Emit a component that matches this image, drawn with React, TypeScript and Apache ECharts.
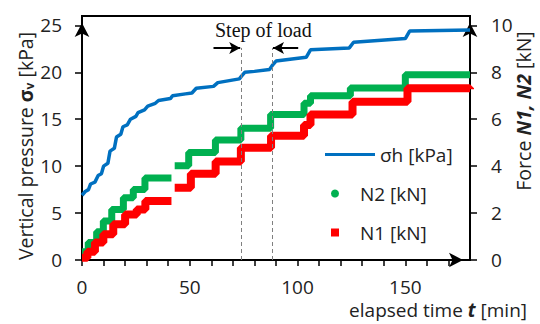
import React, { useEffect, useRef } from "react";
import * as echarts from "echarts";

// elapsed time t [min] and horizontal pressure σh [kPa]
const blueT = [0, 1.5, 3, 4, 6, 7.5, 9, 10, 12, 13, 15, 16, 18, 19, 21, 22.5, 25, 26, 29, 30.5, 34, 35.5, 41, 42, 48, 51, 53, 61, 63, 73, 74, 75.5, 80, 87, 88.5, 90, 104, 106, 124, 126, 150, 152, 180];
const sigmaH = [6.9, 7.3, 7.5, 8.1, 8.3, 9.0, 9.2, 10.0, 10.3, 11.6, 11.9, 13.1, 13.4, 14.2, 14.4, 15.0, 15.3, 15.7, 16.0, 16.4, 16.7, 17.0, 17.2, 17.5, 17.7, 17.8, 18.3, 18.5, 18.9, 19.3, 19.6, 20.0, 20.1, 20.3, 20.8, 21.2, 21.6, 22.4, 22.6, 23.2, 23.6, 24.4, 24.5];

// force N2 [kN] (step levels, value holds from t until next t)
const n2T = [0, 2.9, 6.8, 9.9, 13.8, 19.2, 23.8, 29.2, 40.8, 41.5, 43, 49.5, 61.9, 73.7, 87.5, 103, 106, 124.5, 150, 180];
const n2 = [0.35, 0.75, 1.2, 1.66, 2.15, 2.65, 3.0, 3.5, 3.5, null, 4.02, 4.58, 5.12, 5.62, 6.2, 6.68, 7.0, 7.33, 7.9, 7.88];

// force N1 [kN]
const n1T = [0, 2.5, 6, 9.9, 14.5, 20, 25.4, 29.4, 40.8, 41.5, 43, 50.5, 62, 73.7, 87.7, 103, 106, 125.5, 151, 180];
const n1 = [0.1, 0.35, 0.75, 1.1, 1.52, 1.94, 2.15, 2.52, 2.52, null, 3.08, 3.68, 4.2, 4.78, 5.3, 5.75, 6.2, 6.75, 7.32, 7.28];

const xTicks = [0, 10, 20, 30, 40, 50, 60, 70, 80, 90, 100, 110, 120, 130, 140, 150, 160, 170];
const xLabels = [0, 50, 100, 150];
const leftTicks = [0, 5, 10, 15, 20, 25];
const rightTicks = [0, 2, 4, 6, 8, 10];

const loadSteps = [73.7, 88.3];
const arrowLevel = 22.6;
const arrowFrom = [61, 100.3];

const names = { sh: "σh [kPa]", n2: "N2 [kN]", n1: "N1 [kN]" };

const FONT = "Open Sans";

export default function App() {
  const ref = useRef<HTMLDivElement>(null);
  useEffect(() => {
    if (!ref.current) return;
    const chart = echarts.init(ref.current, undefined, { renderer: "svg" });
    const pair = (ts: number[], vs: (number | null)[]) =>
      ts.map((t, i) => [t, vs[i] === null ? "-" : vs[i]]);
    const axisLine = (sym: boolean) => ({
      show: true,
      lineStyle: { color: "#000", width: 2 },
      symbol: sym ? ["none", "arrow"] : "none",
      symbolSize: [11, 14],
      symbolOffset: [0, -7],
    });
    const dash = (t: number) => [
      { coord: [t, 0], lineStyle: { type: [4, 3], color: "#808080", width: 1 } },
      { coord: [t, arrowLevel], lineStyle: { type: [4, 3], color: "#808080", width: 1 } },
    ];
    const arrow = (from: number, to: number) => [
      { coord: [from, arrowLevel], symbol: "none", lineStyle: { color: "#000", width: 2, type: "solid" } },
      { coord: [to, arrowLevel], symbol: "arrow", symbolSize: [9, 11], lineStyle: { color: "#000", width: 2, type: "solid" } },
    ];
    const legendText = { fontFamily: FONT, fontSize: 19, color: "#222" };
    chart.setOption({
      animation: false,
      backgroundColor: "#fff",
      textStyle: { fontFamily: FONT },
      grid: { left: 82, top: 16, width: 388, height: 244, show: true, borderColor: "#000", borderWidth: 2 },
      xAxis: {
        type: "value",
        min: 0,
        max: 180,
        axisLine: axisLine(true),
        axisTick: { show: true, length: 6, lineStyle: { color: "#000", width: 1.5 }, customValues: xTicks },
        axisLabel: { fontSize: 19, color: "#222", margin: 17, customValues: xLabels, fontFamily: FONT },
        splitLine: { show: false },
      },
      yAxis: [
        {
          type: "value",
          min: 0,
          max: 26,
          position: "left",
          axisLine: axisLine(true),
          axisTick: { show: true, length: 7, lineStyle: { color: "#000", width: 1.5 }, customValues: leftTicks },
          axisLabel: { fontSize: 19, color: "#222", margin: 20, customValues: leftTicks, fontFamily: FONT },
          splitLine: { show: false },
        },
        {
          type: "value",
          min: 0,
          max: 10.4,
          position: "right",
          axisLine: axisLine(true),
          axisTick: { show: true, length: 7, lineStyle: { color: "#000", width: 1.5 }, customValues: rightTicks },
          axisLabel: { fontSize: 19, color: "#222", margin: 21, customValues: rightTicks, fontFamily: FONT },
          splitLine: { show: false },
        },
      ],
      legend: [
        {
          data: [{ name: names.sh, icon: "rect" }],
          orient: "vertical",
          left: 320,
          top: 140,
          itemWidth: 50,
          itemHeight: 3,
          selectedMode: false,
          textStyle: legendText,
        },
        {
          data: [{ name: names.n2, icon: "circle" }],
          orient: "vertical",
          left: 326,
          top: 179,
          itemWidth: 40,
          itemHeight: 8,
          selectedMode: false,
          textStyle: legendText,
        },
        {
          data: [{ name: names.n1, icon: "path://M0,0h10v10h-10z" }],
          orient: "vertical",
          left: 326,
          top: 218,
          itemWidth: 40,
          itemHeight: 8,
          selectedMode: false,
          textStyle: legendText,
        },
      ],
      series: [
        {
          name: names.sh,
          type: "line",
          yAxisIndex: 0,
          data: pair(blueT, sigmaH),
          showSymbol: false,
          symbol: "none",
          lineStyle: { color: "#0070C0", width: 3.5 },
          itemStyle: { color: "#0070C0" },
          z: 3,
          markLine: {
            silent: true,
            animation: false,
            symbol: ["none", "none"],
            label: { show: false },
            emphasis: { disabled: true },
            data: [
              dash(loadSteps[0]),
              dash(loadSteps[1]),
              arrow(arrowFrom[0], loadSteps[0] - 0.3),
              arrow(arrowFrom[1], loadSteps[1] + 0.3),
            ],
          },
        },
        {
          name: names.n2,
          type: "line",
          yAxisIndex: 1,
          step: "end",
          data: pair(n2T, n2),
          showSymbol: false,
          symbol: "none",
          connectNulls: false,
          lineStyle: { color: "#00B050", width: 7 },
          itemStyle: { color: "#00B050" },
          z: 2,
        },
        {
          name: names.n1,
          type: "line",
          yAxisIndex: 1,
          step: "end",
          data: pair(n1T, n1),
          showSymbol: false,
          symbol: "none",
          connectNulls: false,
          lineStyle: { color: "#FF0000", width: 8 },
          itemStyle: { color: "#FF0000" },
          z: 2,
        },
      ],
      graphic: [
        {
          type: "text",
          x: 215,
          y: 30,
          style: {
            text: "Step of load",
            font: '20px "Liberation Serif"',
            fill: "#111",
            verticalAlign: "middle",
            align: "left",
          },
        },
        {
          type: "text",
          x: 25,
          y: 146,
          rotation: Math.PI / 2,
          style: {
            text: "Vertical pressure {b|σ}{s|v} [kPa]",
            fontFamily: FONT,
            fontSize: 19.5,
            fill: "#222",
            align: "center",
            verticalAlign: "middle",
            rich: {
              b: { fontFamily: FONT, fontSize: 19.5, fontWeight: "bold", fill: "#222" },
              s: { fontFamily: FONT, fontSize: 12, fontWeight: "bold", fill: "#222", verticalAlign: "bottom" },
            },
          },
        },
        {
          type: "text",
          x: 523,
          y: 111,
          rotation: Math.PI / 2,
          style: {
            text: "Force {b|N1, N2} [kN]",
            fontFamily: FONT,
            fontSize: 19.5,
            fill: "#222",
            align: "center",
            verticalAlign: "middle",
            rich: {
              b: { fontFamily: FONT, fontSize: 19.5, fontWeight: "bold", fontStyle: "italic", fill: "#222" },
            },
          },
        },
        {
          type: "text",
          x: 527,
          y: 310,
          style: {
            text: "elapsed time {b|t} [min]",
            fontFamily: FONT,
            fontSize: 19,
            fill: "#222",
            align: "right",
            verticalAlign: "middle",
            rich: {
              b: { fontFamily: FONT, fontSize: 19, fontWeight: "bold", fontStyle: "italic", fill: "#222" },
            },
          },
        },
      ],
    });
    return () => chart.dispose();
  }, []);
  return (
    <div
      ref={ref}
      style={{ position: "absolute", left: 0, top: 0, width: 540, height: 324, background: "#fff" }}
    />
  );
}
